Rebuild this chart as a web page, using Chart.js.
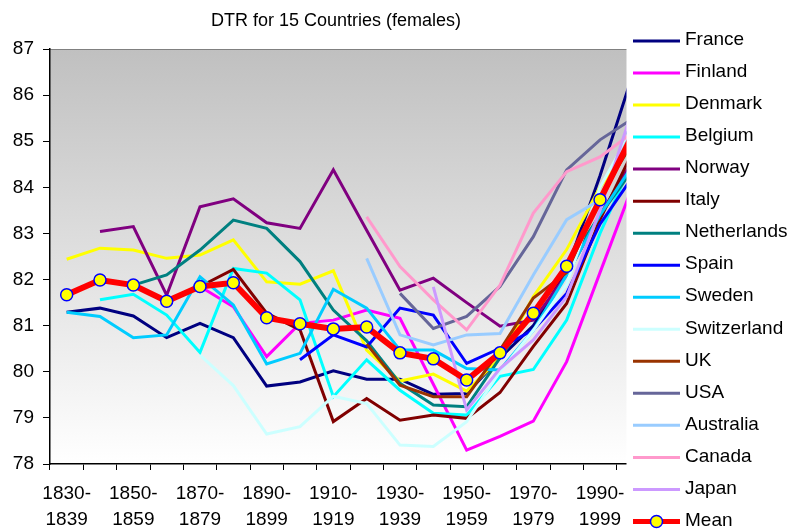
<!DOCTYPE html>
<html>
<head>
<meta charset="utf-8">
<script src="https://cdn.jsdelivr.net/npm/chart.js@4.4.1/dist/chart.umd.min.js"></script>
<style>
  html, body { margin: 0; padding: 0; background: #fff; }
  #wrap { width: 793px; height: 530px; }
</style>
</head>
<body>
<div id="wrap"><canvas id="dtrChart" width="793" height="530"></canvas></div>
<script>
// Decades on the x axis (only every other one gets a label)
const decades = ['1830-1839', '1840-1849', '1850-1859', '1860-1869', '1870-1879', '1880-1889',
  '1890-1899', '1900-1909', '1910-1919', '1920-1929', '1930-1939', '1940-1949',
  '1950-1959', '1960-1969', '1970-1979', '1980-1989', '1990-1999', '2000-2009'];

const _ = null;
const france      = [81.29, 81.38, 81.21, 80.74, 81.05, 80.74, 79.69, 79.78, 80.02, 79.84, 79.84, 79.51, 79.53, 80.3, 81.0, 82.2, 84.25, 86.49];
const finland     = [_, _, _, _, 81.85, 81.41, 80.33, 81.05, 81.12, 81.34, 81.16, 79.73, 78.3, 78.6, 78.93, 80.22, 82.15, 84.07];
const denmark     = [82.44, 82.68, 82.64, 82.46, 82.53, 82.86, 81.95, 81.9, 82.19, 80.47, 79.8, 79.95, 79.58, 80.3, 81.63, 82.65, 84.0, 84.95];
const belgium     = [_, 81.56, 81.68, 81.23, 80.42, 82.24, 82.14, 81.56, 79.46, 80.26, 79.6, 79.1, 79.06, 79.9, 80.05, 81.12, 83.0, 84.6];
const norway      = [_, 83.04, 83.15, 81.66, 83.58, 83.75, 83.23, 83.11, 84.38, 83.07, 81.77, 82.03, 81.5, 80.99, 81.12, 82.1, 83.4, 84.6];
const italy       = [_, _, _, _, 81.85, 82.22, 81.27, 80.91, 78.92, 79.42, 78.95, 79.06, 78.99, 79.55, 80.55, 81.48, 83.3, 84.8];
const netherlands = [_, _, 81.88, 82.1, 82.64, 83.29, 83.11, 82.39, 81.34, 80.67, 79.75, 79.28, 79.24, 80.3, 81.3, 82.3, 83.4, 84.4];
const spain       = [_, _, _, _, _, _, _, 80.26, 80.8, 80.54, 81.38, 81.23, 80.18, 80.51, 80.91, 81.7, 83.2, 84.25];
const sweden      = [81.29, 81.2, 80.74, 80.8, 82.06, 81.45, 80.17, 80.4, 81.79, 81.38, 80.47, 80.47, 80.07, 80.04, 80.9, 82.1, 83.4, 84.5];
const switzerland = [_, _, _, _, 80.36, 79.7, 78.65, 78.81, 79.47, 79.31, 78.41, 78.38, 78.92, 80.0, 80.9, 81.9, 84.0, 85.3];
const uk          = [_, _, _, _, _, _, _, _, _, 80.6, 79.71, 79.46, 79.46, 80.47, 81.6, 82.15, 83.8, 85.0];
const usa         = [_, _, _, _, _, _, _, _, _, _, 81.7, 80.94, 81.2, 81.85, 82.93, 84.38, 85.03, 85.5];
const australia   = [_, _, _, _, _, _, _, _, _, 82.46, 80.8, 80.58, 80.8, 80.83, 82.1, 83.3, 83.73, 85.3];
const canada      = [_, _, _, _, _, _, _, _, _, 83.36, 82.28, 81.56, 80.91, 81.88, 83.44, 84.34, 84.66, 85.2];
const japan       = [_, _, _, _, _, _, _, _, _, _, _, 81.84, 79.17, 80.07, 80.69, 81.63, 83.5, 85.75];
const mean        = [81.67, 81.99, 81.88, 81.53, 81.85, 81.93, 81.17, 81.04, 80.93, 80.97, 80.41, 80.28, 79.82, 80.41, 81.27, 82.29, 83.73, 85.17];

const FONT = '"Liberation Sans", Arial, sans-serif';

const series = [
    ['France', france, '#000080'],
    ['Finland', finland, '#ff00ff'],
    ['Denmark', denmark, '#ffff00'],
    ['Belgium', belgium, '#00ffff'],
    ['Norway', norway, '#800080'],
    ['Italy', italy, '#800000'],
    ['Netherlands', netherlands, '#008080'],
    ['Spain', spain, '#0000ff'],
    ['Sweden', sweden, '#00ccff'],
    ['Switzerland', switzerland, '#ccffff'],
    ['UK', uk, '#993300'],
    ['USA', usa, '#666699'],
    ['Australia', australia, '#99ccff'],
    ['Canada', canada, '#ff99cc'],
    ['Japan', japan, '#cc99ff']
];

const datasets = series.map(([label, data, color], i) => ({
    label,
    data,
    borderColor: color,
    backgroundColor: color,
    borderWidth: 3,
    pointRadius: 0,
    fill: false,
    tension: 0,
    order: series.length + 1 - i
}));

datasets.push({
    label: 'Mean',
    data: mean,
    borderColor: '#ff0000',
    backgroundColor: '#ff0000',
    borderWidth: 6,
    pointRadius: 6,
    pointBackgroundColor: '#ffff00',
    pointBorderColor: '#0000ff',
    pointBorderWidth: 1.5,
    fill: false,
    tension: 0,
    order: 0
});

// gradient plot area + thin top border
const plotBackground = {
    id: 'plotBackground',
    beforeDraw(chart) {
        const { ctx, chartArea: a } = chart;
        const g = ctx.createLinearGradient(0, a.top, 0, a.bottom);
        g.addColorStop(0, '#c0c0c0');
        g.addColorStop(1, '#ffffff');
        ctx.save();
        ctx.fillStyle = g;
        ctx.fillRect(a.left, a.top, a.right - a.left, a.bottom - a.top);
        ctx.strokeStyle = '#808080';
        ctx.lineWidth = 1;
        ctx.beginPath();
        ctx.moveTo(a.left, a.top + 0.5);
        ctx.lineTo(a.right, a.top + 0.5);
        ctx.stroke();
        ctx.restore();
    }
};

// title and the legend box that sits over the right end of the plot
const sideLegend = {
    id: 'sideLegend',
    afterDraw(chart) {
        const ctx = chart.ctx;
        ctx.save();
        ctx.fillStyle = '#000';
        ctx.font = '18px ' + FONT;
        ctx.textAlign = 'center';
        ctx.textBaseline = 'middle';
        ctx.fillText('DTR for 15 Countries (females)', 336, 21);

        ctx.fillStyle = '#fff';
        ctx.fillRect(626.5, 0, chart.width - 626.5, chart.height);

        ctx.font = '19px ' + FONT;
        ctx.textAlign = 'left';
        chart.data.datasets.forEach((ds, i) => {
            const y = 41 + i * 32.03;
            ctx.strokeStyle = ds.borderColor;
            ctx.lineWidth = ds.label === 'Mean' ? 5 : 3;
            ctx.beginPath();
            ctx.moveTo(633, y);
            ctx.lineTo(680, y);
            ctx.stroke();
            if (ds.label === 'Mean') {
                ctx.beginPath();
                ctx.arc(656.5, y, 6, 0, Math.PI * 2);
                ctx.fillStyle = ds.pointBackgroundColor;
                ctx.fill();
                ctx.lineWidth = 1.5;
                ctx.strokeStyle = ds.pointBorderColor;
                ctx.stroke();
            }
            ctx.fillStyle = '#000';
            ctx.fillText(ds.label, 685, y - 1);
        });
        ctx.restore();
    }
};

new Chart(document.getElementById('dtrChart'), {
    type: 'line',
    data: { labels: decades, datasets },
    options: {
        responsive: false,
        devicePixelRatio: 1,
        animation: false,
        layout: { padding: { top: 49, right: 143, left: 0, bottom: 0 } },
        plugins: {
            legend: { display: false },
            title: { display: false },
            tooltip: { enabled: false }
        },
        scales: {
            x: {
                offset: true,
                grid: { offset: true, drawOnChartArea: false, drawTicks: true, tickLength: 6, color: '#000' },
                border: { display: true, color: '#000', width: 1.5 },
                ticks: {
                    autoSkip: false,
                    maxRotation: 0,
                    padding: 10,
                    color: '#000',
                    font: { family: FONT, size: 19, lineHeight: 1.4 },
                    callback(value, index) {
                        return index % 2 === 0 ? decades[index].replace('-', '-\n').split('\n') : '';
                    }
                },
                afterFit(scale) { scale.height = 66; }
            },
            y: {
                min: 78,
                max: 87,
                grid: { drawOnChartArea: false, drawTicks: true, tickLength: 7, color: '#000' },
                border: { display: true, color: '#000', width: 1.5 },
                ticks: {
                    stepSize: 1,
                    padding: 9,
                    color: '#000',
                    font: { family: FONT, size: 19 }
                },
                afterFit(scale) { scale.width = 50; }
            }
        }
    },
    plugins: [plotBackground, sideLegend]
});
</script>
</body>
</html>
